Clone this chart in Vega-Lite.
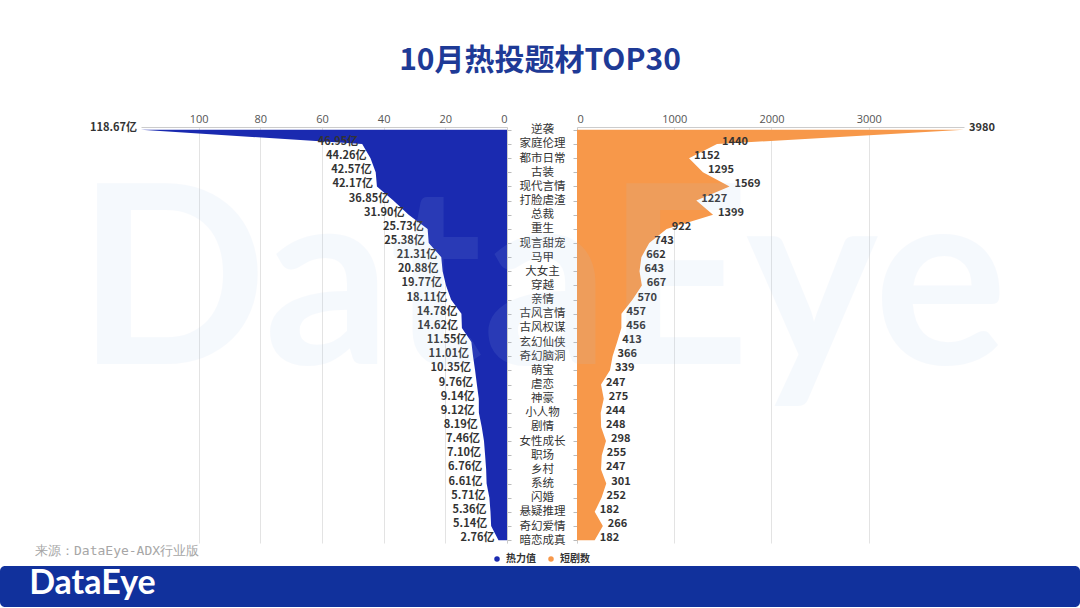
{
  "$schema": "https://vega.github.io/schema/vega-lite/v6.json",
  "autosize": {"type": "pad"},
  "padding": {"left": 0, "top": 46, "right": 0, "bottom": 0},
  "background": "white",
  "title": {"text": "10月热投题材TOP30", "anchor": "middle", "fontSize": 30, "font": "Noto Sans CJK SC", "fontWeight": "bold", "color": "#1e3a96", "offset": 37},
  "config": {
    "view": {"stroke": null},
    "font": "Noto Sans CJK SC",
    "legend": {"orient": "none", "legendX": 492, "legendY": 427, "direction": "horizontal", "symbolType": "circle", "symbolSize": 30, "labelFontSize": 10, "labelFontWeight": "bold", "labelColor": "#333333", "columnPadding": 10, "symbolStrokeWidth": 0}
  },
  "datasets": {
    "main": [
      {"topic": "逆袭", "heat": 118.67, "count": 3980},
      {"topic": "家庭伦理", "heat": 46.95, "count": 1440},
      {"topic": "都市日常", "heat": 44.26, "count": 1152},
      {"topic": "古装", "heat": 42.57, "count": 1295},
      {"topic": "现代言情", "heat": 42.17, "count": 1569},
      {"topic": "打脸虐渣", "heat": 36.85, "count": 1227},
      {"topic": "总裁", "heat": 31.90, "count": 1399},
      {"topic": "重生", "heat": 25.73, "count": 922},
      {"topic": "现言甜宠", "heat": 25.38, "count": 743},
      {"topic": "马甲", "heat": 21.31, "count": 662},
      {"topic": "大女主", "heat": 20.88, "count": 643},
      {"topic": "穿越", "heat": 19.77, "count": 667},
      {"topic": "亲情", "heat": 18.11, "count": 570},
      {"topic": "古风言情", "heat": 14.78, "count": 457},
      {"topic": "古风权谋", "heat": 14.62, "count": 456},
      {"topic": "玄幻仙侠", "heat": 11.55, "count": 413},
      {"topic": "奇幻脑洞", "heat": 11.01, "count": 366},
      {"topic": "萌宝", "heat": 10.35, "count": 339},
      {"topic": "虐恋", "heat": 9.76, "count": 247},
      {"topic": "神豪", "heat": 9.14, "count": 275},
      {"topic": "小人物", "heat": 9.12, "count": 244},
      {"topic": "剧情", "heat": 8.19, "count": 248},
      {"topic": "女性成长", "heat": 7.46, "count": 298},
      {"topic": "职场", "heat": 7.10, "count": 255},
      {"topic": "乡村", "heat": 6.76, "count": 247},
      {"topic": "系统", "heat": 6.61, "count": 301},
      {"topic": "闪婚", "heat": 5.71, "count": 252},
      {"topic": "悬疑推理", "heat": 5.36, "count": 182},
      {"topic": "奇幻爱情", "heat": 5.14, "count": 266},
      {"topic": "暗恋成真", "heat": 2.76, "count": 182}
    ],
    "deco": [{"logo": "DataEye", "src": "来源：DataEye-ADX行业版"}]
  },
  "spacing": 8,
  "vconcat": [
    {
      "bounds": "flush",
      "spacing": 70,
      "hconcat": [
        {
          "width": 71, "height": 416,
          "data": {"name": "deco"},
          "mark": {"type": "text", "align": "left", "baseline": "middle", "font": "DejaVu Sans Mono", "fontSize": 13, "color": "#a6a6a6"},
          "encoding": {
            "x": {"datum": 0.493, "type": "quantitative", "scale": {"domain": [0, 1], "nice": false, "zero": false}, "axis": null},
            "y": {"datum": -0.019, "type": "quantitative", "scale": {"domain": [0, 1], "nice": false, "zero": false}, "axis": null},
            "text": {"field": "src", "type": "nominal"}
          }
        },
        {
          "width": 366, "height": 416,
          "data": {"name": "main"},
          "transform": [{"calculate": "format(datum.heat, '.2f') + '亿'", "as": "heatLabel"}],
          "encoding": {
            "y": {"field": "topic", "type": "nominal", "sort": null, "scale": {"type": "point", "padding": 0.2},
              "axis": {"orient": "right", "labels": false, "title": null, "ticks": true, "tickSize": 4, "tickColor": "#bbbbbb", "domainColor": "#cccccc", "grid": false}}
          },
          "layer": [
            {
              "mark": {"type": "area", "orient": "horizontal", "opacity": 1, "interpolate": "linear"},
              "encoding": {
                "x": {"field": "heat", "type": "quantitative", "stack": null,
                  "scale": {"domain": [0, 118.67], "reverse": true, "nice": false},
                  "axis": {"orient": "top", "values": [0, 20, 40, 60, 80, 100], "title": null, "grid": true, "gridColor": "#e3e3e3", "ticks": false, "domainColor": "#cccccc", "labelFontSize": 11, "labelColor": "#555555", "labelPadding": 3, "labelFont": "Open Sans"}},
                "color": {"datum": "热力值", "type": "nominal", "scale": {"domain": ["热力值", "短剧数"], "range": ["#1a2ab0", "#f7984a"]}, "legend": {"title": null}}
              }
            },
            {
              "mark": {"type": "text", "align": "right", "baseline": "middle", "dx": -4, "dy": -2, "fontSize": 11, "fontWeight": "bold", "color": "#333333"},
              "encoding": {
                "x": {"field": "heat", "type": "quantitative"},
                "text": {"field": "heatLabel", "type": "nominal"}
              }
            }
          ]
        },
        {
          "width": 387, "height": 416,
          "resolve": {"scale": {"x": "independent", "y": "independent"}},
          "layer": [
            {
              "data": {"name": "main"},
              "encoding": {
                "y": {"field": "topic", "type": "nominal", "sort": null, "scale": {"type": "point", "padding": 0.2},
                  "axis": {"orient": "left", "labelAlign": "center", "labelPadding": 31, "title": null, "ticks": true, "tickSize": 4, "tickColor": "#bbbbbb", "domainColor": "#cccccc", "grid": false, "labelFontSize": 11.5, "labelColor": "#333333"}}
              },
              "layer": [
                {
                  "mark": {"type": "area", "orient": "horizontal", "opacity": 1, "interpolate": "linear"},
                  "encoding": {
                    "x": {"field": "count", "type": "quantitative", "stack": null,
                      "scale": {"domain": [0, 3980], "nice": false},
                      "axis": {"orient": "top", "values": [0, 1000, 2000, 3000], "format": "d", "title": null, "grid": true, "gridColor": "#e3e3e3", "ticks": false, "domainColor": "#cccccc", "labelFontSize": 11, "labelColor": "#555555", "labelPadding": 3, "labelFont": "Open Sans"}},
                    "color": {"datum": "短剧数", "type": "nominal", "scale": {"domain": ["热力值", "短剧数"], "range": ["#1a2ab0", "#f7984a"]}, "legend": {"title": null}}
                  }
                },
                {
                  "mark": {"type": "text", "align": "left", "baseline": "middle", "dx": 5, "dy": -2, "fontSize": 11, "fontWeight": "bold", "color": "#333333"},
                  "encoding": {
                    "x": {"field": "count", "type": "quantitative"},
                    "text": {"field": "count", "type": "quantitative", "format": "d"}
                  }
                }
              ]
            },
            {
              "data": {"name": "deco"},
              "mark": {"type": "text", "align": "center", "baseline": "middle", "font": "Lato", "fontWeight": "bold", "fontSize": 250, "color": "#a9c9ee", "opacity": 0.1},
              "encoding": {
                "x": {"datum": -0.09, "type": "quantitative", "scale": {"domain": [0, 1], "nice": false, "zero": false}, "axis": null},
                "y": {"datum": 0.61, "type": "quantitative", "scale": {"domain": [0, 1], "nice": false, "zero": false}, "axis": null},
                "text": {"field": "logo", "type": "nominal"}
              }
            }
          ]
        }
      ]
    },
    {
      "width": 1080, "height": 41,
      "data": {"name": "deco"},
      "layer": [
        {
          "mark": {"type": "rect", "color": "#11319c", "cornerRadius": 5},
          "encoding": {
            "x": {"datum": 0, "type": "quantitative", "scale": {"domain": [0, 1], "nice": false, "zero": false}, "axis": null},
            "x2": {"datum": 1},
            "y": {"datum": 0, "type": "quantitative", "scale": {"domain": [0, 1], "nice": false, "zero": false}, "axis": null},
            "y2": {"datum": 1}
          }
        },
        {
          "mark": {"type": "text", "align": "left", "baseline": "middle", "font": "Lato", "fontWeight": "bold", "fontSize": 34, "color": "white"},
          "encoding": {
            "x": {"datum": 0.027, "type": "quantitative"},
            "y": {"datum": 0.55, "type": "quantitative"},
            "text": {"field": "logo", "type": "nominal"}
          }
        }
      ]
    }
  ]
}
